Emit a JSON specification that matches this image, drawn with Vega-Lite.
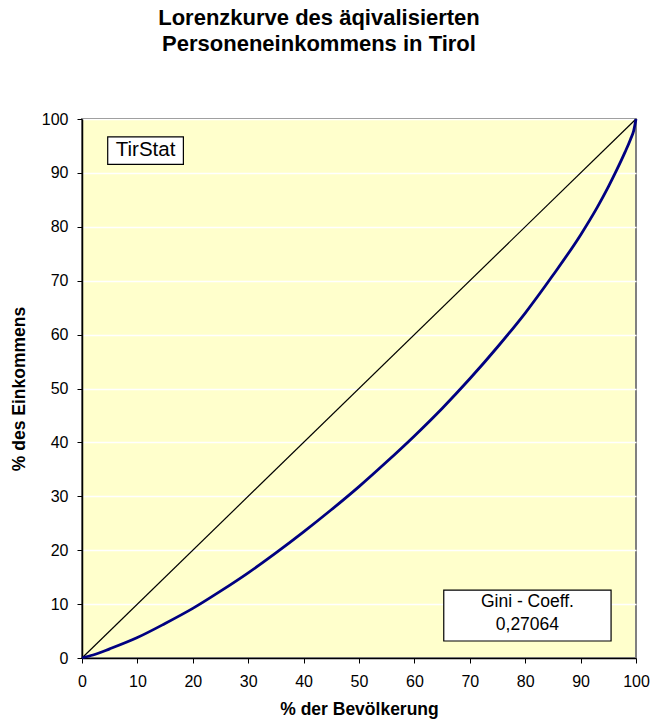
{
  "$schema": "https://vega.github.io/schema/vega-lite/v6.json",
  "autosize": {"type": "none"},
  "width": 554,
  "height": 539,
  "padding": {"left": 82, "top": 119, "right": 16, "bottom": 66},
  "background": "white",
  "config": {
    "font": "Liberation Sans",
    "view": {"fill": "#FFFFCC", "stroke": "#808080", "strokeWidth": 2}
  },
  "title": {
    "text": ["Lorenzkurve des äqivalisierten", "Personeneinkommens in Tirol"],
    "font": "Liberation Sans",
    "fontSize": 22,
    "fontWeight": "bold",
    "lineHeight": 26,
    "color": "black",
    "anchor": "middle",
    "dx": -40,
    "offset": 55
  },
  "datasets": {
    "lorenz": [
      {"bev": 0, "eink": 0},
      {"bev": 2, "eink": 0.55},
      {"bev": 5, "eink": 1.7},
      {"bev": 10, "eink": 3.8},
      {"bev": 15, "eink": 6.4},
      {"bev": 20, "eink": 9.2},
      {"bev": 25, "eink": 12.4},
      {"bev": 30, "eink": 15.8},
      {"bev": 35, "eink": 19.5},
      {"bev": 40, "eink": 23.4},
      {"bev": 45, "eink": 27.5},
      {"bev": 50, "eink": 31.8},
      {"bev": 55, "eink": 36.4},
      {"bev": 60, "eink": 41.2},
      {"bev": 65, "eink": 46.3},
      {"bev": 70, "eink": 51.8},
      {"bev": 75, "eink": 57.7},
      {"bev": 80, "eink": 64},
      {"bev": 85, "eink": 71},
      {"bev": 90, "eink": 78.5},
      {"bev": 93, "eink": 83.6},
      {"bev": 95, "eink": 87.4},
      {"bev": 96.5, "eink": 90.5},
      {"bev": 98, "eink": 93.8},
      {"bev": 99, "eink": 96.2},
      {"bev": 99.6, "eink": 97.9},
      {"bev": 100, "eink": 100}
    ],
    "diagonal": [
      {"bev": 0, "eink": 0},
      {"bev": 100, "eink": 100}
    ]
  },
  "layer": [
    {
      "data": {"name": "diagonal"},
      "mark": {"type": "line", "color": "black", "strokeWidth": 1.2},
      "encoding": {
        "x": {
          "field": "bev", "type": "quantitative",
          "scale": {"domain": [0, 100], "nice": false},
          "axis": {
            "title": "% der Bevölkerung",
            "values": [0, 10, 20, 30, 40, 50, 60, 70, 80, 90, 100],
            "grid": false,
            "domainColor": "black",
            "domainWidth": 1.5,
            "tickColor": "black",
            "tickSize": 5,
            "labelFontSize": 16,
            "labelColor": "black",
            "labelPadding": 10,
            "labelFlush": false,
            "titleFontSize": 17.5,
            "titleFontWeight": "bold",
            "titleColor": "black",
            "titlePadding": 11
          }
        },
        "y": {
          "field": "eink", "type": "quantitative",
          "scale": {"domain": [0, 100], "nice": false},
          "axis": {
            "title": "% des Einkommens",
            "values": [0, 10, 20, 30, 40, 50, 60, 70, 80, 90, 100],
            "grid": true,
            "gridColor": "white",
            "gridWidth": 1.5,
            "gridOpacity": 1,
            "domainColor": "black",
            "domainWidth": 1.5,
            "tickColor": "black",
            "tickSize": 5,
            "labelFontSize": 16,
            "labelColor": "black",
            "labelPadding": 9,
            "labelFlush": false,
            "titleFontSize": 17.5,
            "titleFontWeight": "bold",
            "titleColor": "black",
            "titlePadding": 13
          }
        }
      }
    },
    {
      "data": {"name": "lorenz"},
      "mark": {"type": "line", "color": "#000080", "strokeWidth": 2.8, "interpolate": "monotone"},
      "encoding": {
        "x": {"field": "bev", "type": "quantitative"},
        "y": {"field": "eink", "type": "quantitative"}
      }
    },
    {
      "data": {"values": [{}]},
      "mark": {"type": "rect", "fill": "white", "stroke": "black", "strokeWidth": 1.2},
      "encoding": {
        "x": {"datum": 4.64, "type": "quantitative"},
        "x2": {"datum": 18.3},
        "y": {"datum": 96.7, "type": "quantitative"},
        "y2": {"datum": 91.6}
      }
    },
    {
      "data": {"values": [{}]},
      "mark": {"type": "text", "text": "TirStat", "fontSize": 20.5, "color": "black", "align": "center", "baseline": "middle"},
      "encoding": {
        "x": {"datum": 11.47, "type": "quantitative"},
        "y": {"datum": 94.2, "type": "quantitative"}
      }
    },
    {
      "data": {"values": [{}]},
      "mark": {"type": "rect", "fill": "white", "stroke": "black", "strokeWidth": 1.2},
      "encoding": {
        "x": {"datum": 65.3, "type": "quantitative"},
        "x2": {"datum": 95.5},
        "y": {"datum": 12.6, "type": "quantitative"},
        "y2": {"datum": 3.15}
      }
    },
    {
      "data": {"values": [{}]},
      "mark": {"type": "text", "text": ["Gini - Coeff.", "0,27064"], "fontSize": 17.5, "lineHeight": 23, "color": "black", "align": "center", "baseline": "alphabetic"},
      "encoding": {
        "x": {"datum": 80.4, "type": "quantitative"},
        "y": {"datum": 9.46, "type": "quantitative"}
      }
    }
  ]
}
